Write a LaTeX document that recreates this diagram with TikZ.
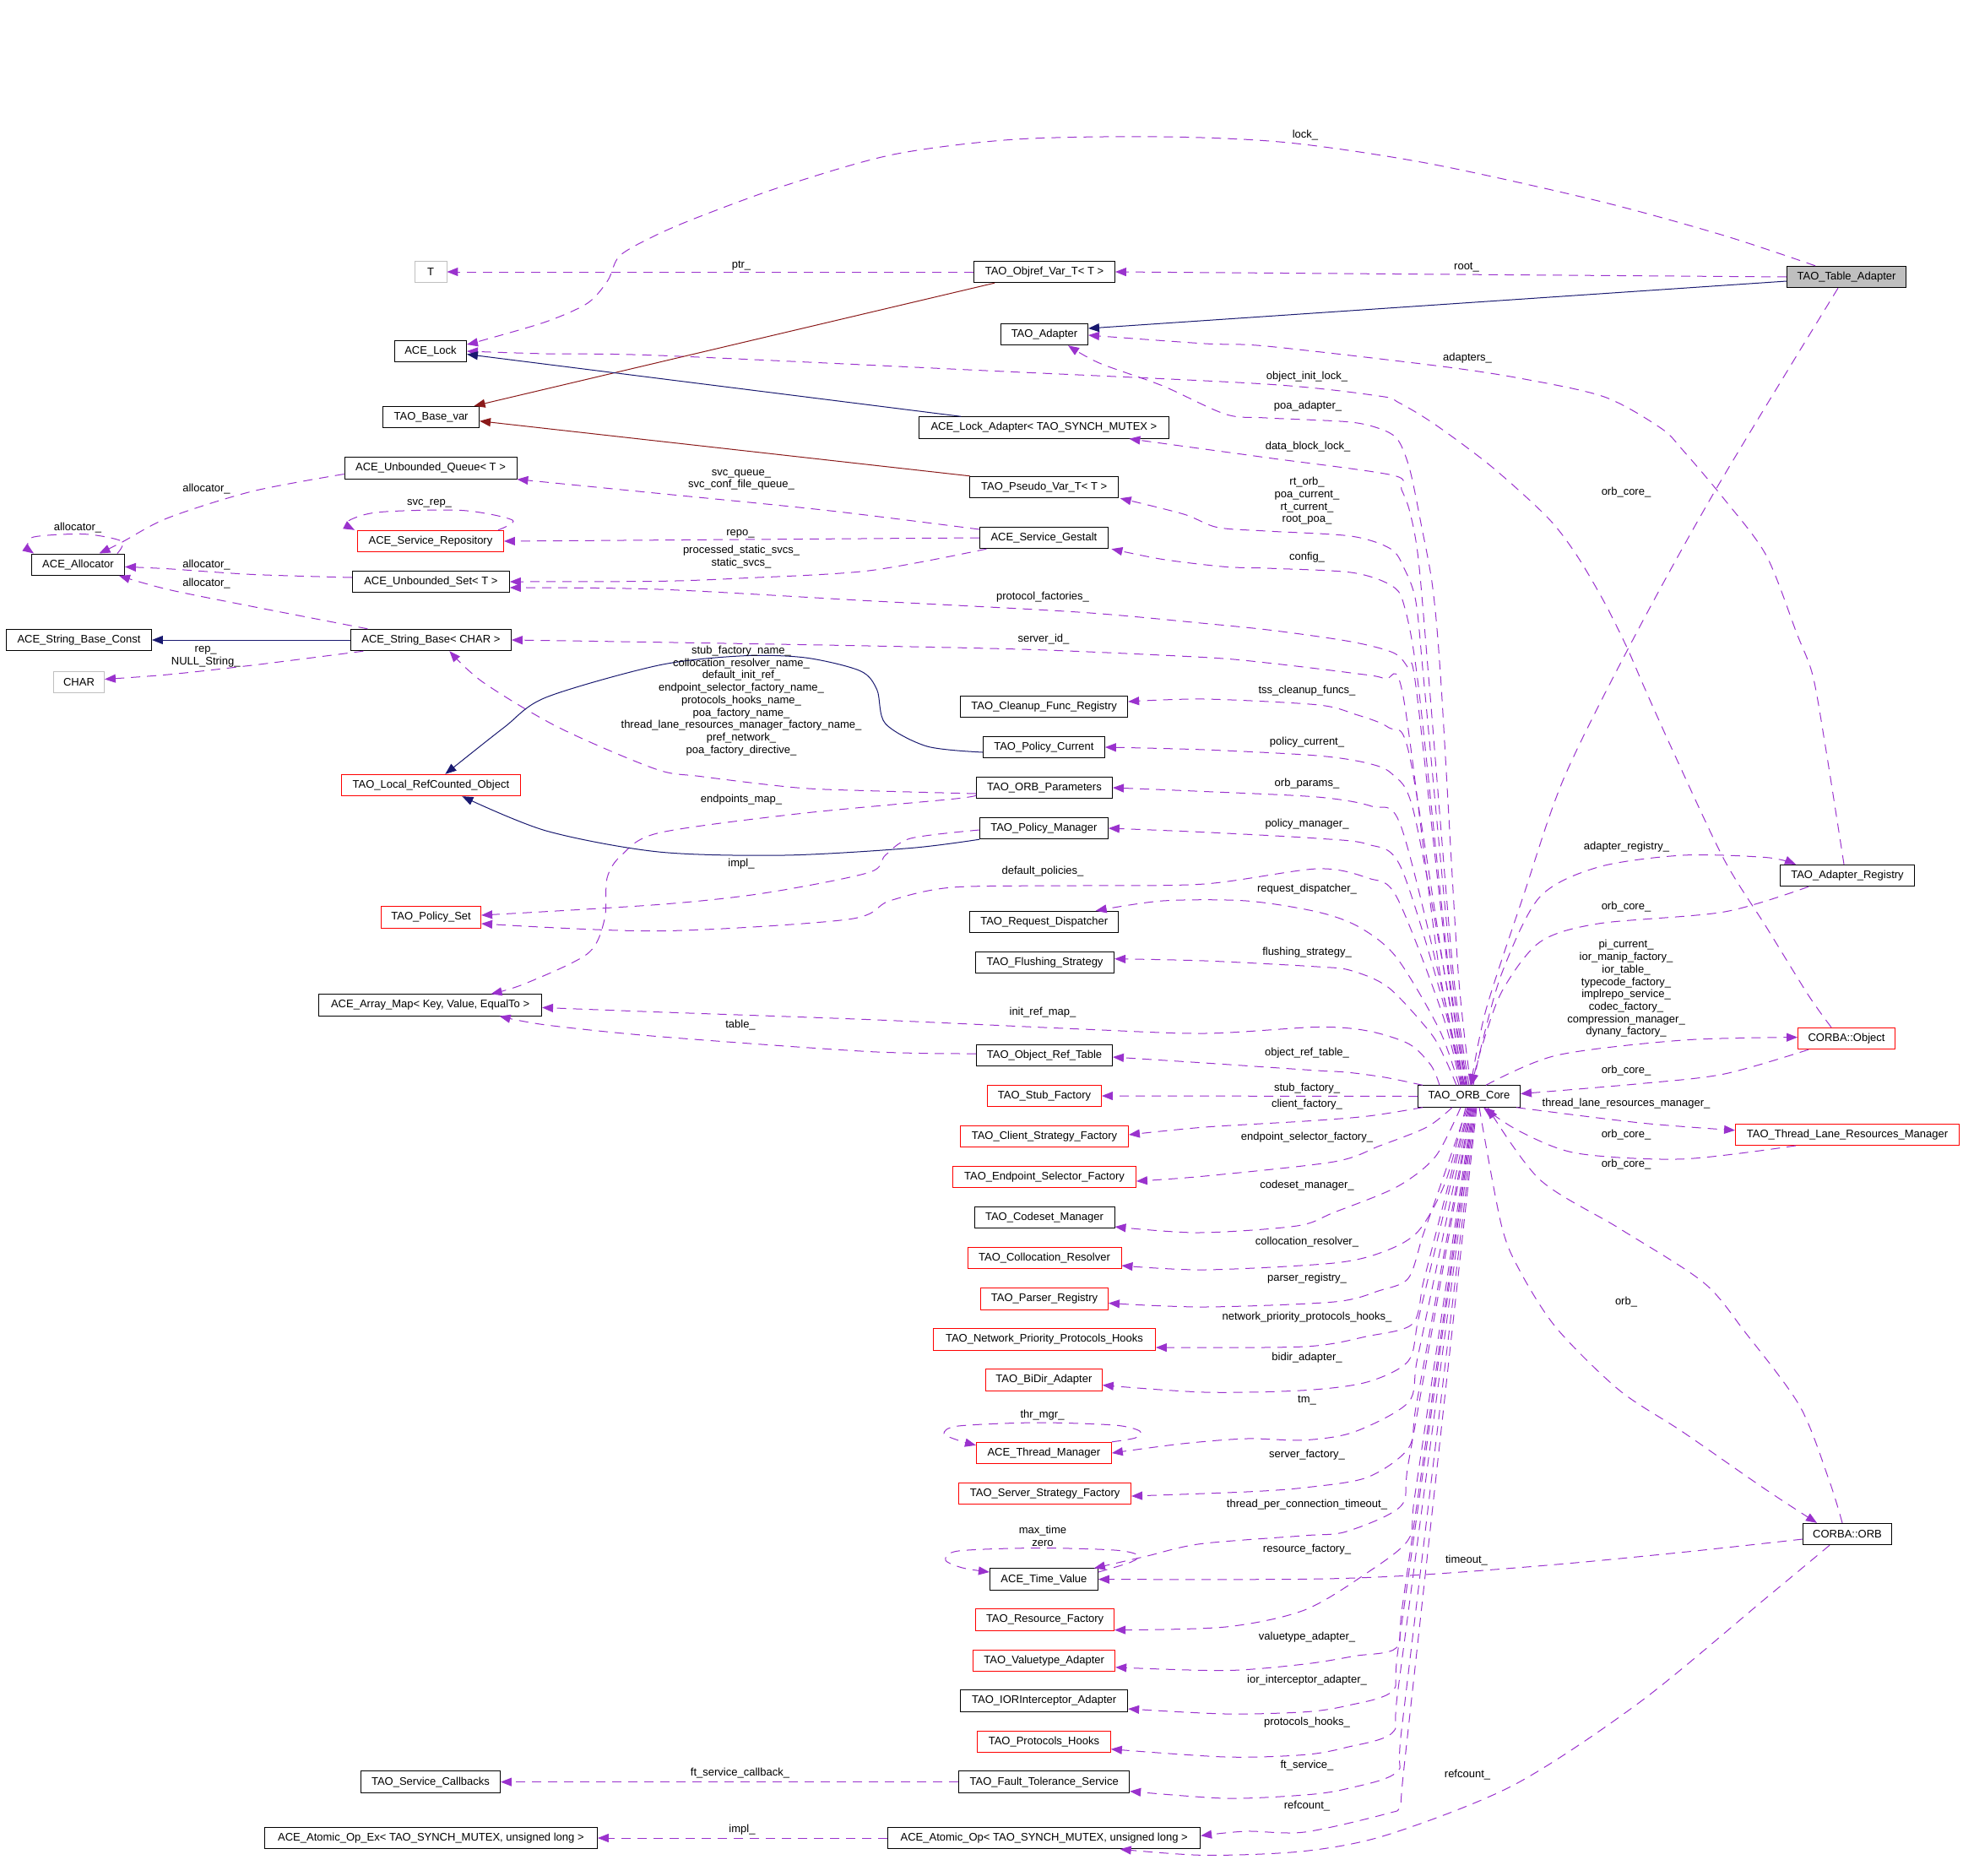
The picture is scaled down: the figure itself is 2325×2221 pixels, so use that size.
\documentclass[tikz,border=0pt]{standalone}
\usepackage{fontspec}
\setmainfont{Liberation Sans}
\usetikzlibrary{arrows.meta}
\definecolor{depc}{HTML}{9A32CD}
\definecolor{inhc}{HTML}{191970}
\definecolor{tplc}{HTML}{8B1A1A}
\definecolor{boxgray}{HTML}{BFBFBF}
\newcommand\dfont{\fontsize{13}{14.7}\selectfont}
\tikzset{
  box/.style={draw=black, line width=0.9pt, minimum height=25.5pt, inner sep=0pt, font=\dfont, fill=white},
  rbox/.style={box, draw=red},
  gbox/.style={box, draw=boxgray},
  dep/.style={draw=depc, line width=1pt, dash pattern=on 11pt off 8pt, -{Triangle[length=13pt,width=10pt]}},
  inh/.style={draw=inhc, line width=1pt, -{Triangle[length=13pt,width=10pt]}},
  tpl/.style={draw=tplc, line width=1pt, -{Triangle[length=13pt,width=10pt]}},
  lab/.style={font=\dfont, inner sep=0pt, align=center}
}
\begin{document}
\begin{tikzpicture}[x=1pt,y=-1pt]
\useasboundingbox (0,0) rectangle (2325,2221);
% ---------------- nodes ----------------
\node[gbox, minimum width=38pt] (t) at (510,322) {T};
\node[box, minimum width=85pt] (lock) at (510,416) {ACE\_Lock};
\node[box, minimum width=114pt] (basevar) at (510.6,494) {TAO\_Base\_var};
\node[box, minimum width=204pt] (uqueue) at (510,554.5) {ACE\_Unbounded\_Queue< T >};
\node[rbox, minimum width=173pt] (srep) at (510,641) {ACE\_Service\_Repository};
\node[box, minimum width=110pt] (alloc) at (92.5,668.7) {ACE\_Allocator};
\node[box, minimum width=186pt] (uset) at (510.4,689) {ACE\_Unbounded\_Set< T >};
\node[box, minimum width=172pt] (sbconst) at (93.5,758) {ACE\_String\_Base\_Const};
\node[box, minimum width=190pt] (sbase) at (510.4,758) {ACE\_String\_Base< CHAR >};
\node[gbox, minimum width=60pt] (char) at (93.5,808) {CHAR};
\node[rbox, minimum width=212pt] (lrco) at (510.4,930) {TAO\_Local\_RefCounted\_Object};
\node[rbox, minimum width=118pt] (pset) at (510.6,1086.4) {TAO\_Policy\_Set};
\node[box, minimum width=264pt] (amap) at (509.6,1190.4) {ACE\_Array\_Map< Key, Value, EqualTo >};
\node[box, minimum width=167pt] (objref) at (1237,322) {TAO\_Objref\_Var\_T< T >};
\node[box, minimum width=103pt] (adapter) at (1237,396) {TAO\_Adapter};
\node[box, minimum width=296pt] (lockad) at (1236.4,506.5) {ACE\_Lock\_Adapter< TAO\_SYNCH\_MUTEX >};
\node[box, minimum width=176pt] (pseudo) at (1236.7,577) {TAO\_Pseudo\_Var\_T< T >};
\node[box, minimum width=152pt] (gestalt) at (1236.4,637) {ACE\_Service\_Gestalt};
\node[box, fill=boxgray, minimum width=141pt] (ta) at (2187,328) {TAO\_Table\_Adapter};
\node[box, minimum width=198pt] (cleanup) at (1236.7,837) {TAO\_Cleanup\_Func\_Registry};
\node[box, minimum width=144pt] (pcur) at (1236.4,885) {TAO\_Policy\_Current};
\node[box, minimum width=161pt] (orbparams) at (1237,933) {TAO\_ORB\_Parameters};
\node[box, minimum width=152pt] (pmgr) at (1236.4,981) {TAO\_Policy\_Manager};
\node[box, minimum width=176pt] (rdisp) at (1236.7,1092) {TAO\_Request\_Dispatcher};
\node[box, minimum width=164pt] (flush) at (1237.6,1139.7) {TAO\_Flushing\_Strategy};
\node[box, minimum width=161pt] (oreft) at (1237,1250) {TAO\_Object\_Ref\_Table};
\node[rbox, minimum width=135pt] (stub) at (1237,1298) {TAO\_Stub\_Factory};
\node[rbox, minimum width=199pt] (client) at (1237,1346) {TAO\_Client\_Strategy\_Factory};
\node[rbox, minimum width=217pt] (eps) at (1237,1394) {TAO\_Endpoint\_Selector\_Factory};
\node[box, minimum width=166pt] (codeset) at (1237,1442) {TAO\_Codeset\_Manager};
\node[rbox, minimum width=182pt] (coll) at (1237,1490) {TAO\_Collocation\_Resolver};
\node[rbox, minimum width=151pt] (parser) at (1237,1538.5) {TAO\_Parser\_Registry};
\node[rbox, minimum width=263pt] (npph) at (1237,1586.5) {TAO\_Network\_Priority\_Protocols\_Hooks};
\node[rbox, minimum width=138pt] (bidir) at (1236.4,1634.6) {TAO\_BiDir\_Adapter};
\node[rbox, minimum width=160pt] (tmgr) at (1236.4,1721) {ACE\_Thread\_Manager};
\node[rbox, minimum width=204pt] (ssf) at (1237.6,1769) {TAO\_Server\_Strategy\_Factory};
\node[box, minimum width=128pt] (tv) at (1236.4,1870.6) {ACE\_Time\_Value};
\node[rbox, minimum width=164pt] (rf) at (1237.6,1918.6) {TAO\_Resource\_Factory};
\node[rbox, minimum width=168pt] (vta) at (1236.7,1966.8) {TAO\_Valuetype\_Adapter};
\node[box, minimum width=198pt] (iora) at (1236.7,2014.5) {TAO\_IORInterceptor\_Adapter};
\node[rbox, minimum width=158pt] (phooks) at (1236.4,2062.7) {TAO\_Protocols\_Hooks};
\node[box, minimum width=202pt] (fts) at (1236.7,2110.6) {TAO\_Fault\_Tolerance\_Service};
\node[box, minimum width=370pt] (atomic) at (1236.7,2177) {ACE\_Atomic\_Op< TAO\_SYNCH\_MUTEX, unsigned long >};
\node[box, minimum width=165pt] (scb) at (510,2110.6) {TAO\_Service\_Callbacks};
\node[box, minimum width=394pt] (atomicex) at (510.4,2177) {ACE\_Atomic\_Op\_Ex< TAO\_SYNCH\_MUTEX, unsigned long >};
\node[box, minimum width=159pt] (areg) at (2188,1037) {TAO\_Adapter\_Registry};
\node[rbox, minimum width=115pt] (cobj) at (2187,1230) {CORBA::Object};
\node[box, minimum width=121pt] (core) at (1740,1298.5) {TAO\_ORB\_Core};
\node[rbox, minimum width=265pt] (tlrm) at (2188,1343.75) {TAO\_Thread\_Lane\_Resources\_Manager};
\node[box, minimum width=105pt] (corb) at (2188,1817) {CORBA::ORB};
% ---------------- TAO_Table_Adapter ----------------
\draw[dep] plot[smooth] coordinates {([xshift=-37pt]ta.north) (2042,279) (1893,238) (1694,194) (1526,169) (1377,162) (1203,165) (1058,183) (929,220) (830,256) (776,279) (734,303) (720,332) (696,359) (647,381) (572,403) ([yshift=8pt]lock.east)};
\draw[dep] (ta.west) -- (objref.east);
\draw[inh] ([yshift=-5pt]ta.west) -- ([yshift=7pt]adapter.east);
\draw[dep] plot[smooth] coordinates {([xshift=-10pt]ta.south) (2035,575) (1938,750) (1853,920) (1804,1062) (1760,1196) ([xshift=2pt]core.north)};
% ---------------- CORBA::Object, Adapter registry ----------------
\draw[dep] plot[smooth] coordinates {([xshift=-18pt]cobj.north) (2142,1179) (2092,1098) (2042,1018) (1983,893) (1947,813) (1927,767) (1900,713) (1867,657) (1833,613) (1767,553) (1700,503) (1657,477) (1633,469) (1500,455) (1168,439) (780,421) (647,419) (lock.east)};
\draw[dep] plot[smooth] coordinates {([xshift=-4pt]areg.north) (2162,884) (2147,800) (2128,750) (2092,658) (2042,591) (1993,533) (1967,507) (1900,470) (1800,448) (1700,433) (1500,410) (1427,407) ([yshift=-1pt]adapter.east)};
% ---------------- left part ----------------
\draw[dep] (objref.west) -- (t.east);
\draw[tpl] ([xshift=-59pt]objref.south) -- ([xshift=51pt]basevar.north);
\draw[inh] ([xshift=-98pt]lockad.north) -- ([yshift=-3.6pt]lock.east);
\draw[tpl] ([xshift=-88pt]pseudo.north) -- ([yshift=-4.7pt]basevar.east);
\draw[dep] plot[smooth] coordinates {([yshift=10pt]gestalt.west) (979,604.5) (780,584.4) (uqueue.south east)};
\draw[dep] (gestalt.west) -- (srep.east);
\draw[dep] plot[smooth] coordinates {([xshift=-68pt]gestalt.south) (1028.7,676) (879.5,684.8) (780,688.4) (uset.east)};
\draw[dep] plot[smooth] coordinates {([yshift=-7pt]uqueue.west) (298.5,582) (199,613.4) (144,642.4) ([xshift=25pt]alloc.north)};
\draw[dep] plot[smooth] coordinates {([yshift=5pt]uset.west) (298.5,680.4) (199,673.7) ([yshift=-2.7pt]alloc.east)};
\draw[dep] plot[smooth] coordinates {([xshift=-75pt]sbase.north) (298.5,718.3) (199,698.2) ([xshift=-7pt]alloc.south east)};
\draw[dep] plot[smooth] coordinates {([xshift=-9pt]alloc.north east) (144,641) (99.5,632.6) (40,636) (33,648) ([xshift=3pt]alloc.north west)};
\draw[dep] plot[smooth] coordinates {([xshift=-7pt]srep.north east) (607,616) (547,604.5) (448,606.7) (411,618) ([xshift=-3pt]srep.north west)};
\draw[inh] (sbase.west) -- (sbconst.east);
\draw[dep] plot[smooth] coordinates {([xshift=-80pt]sbase.south) (298.5,788) (199,799) ([yshift=3.5pt]char.east)};
\draw[dep] plot[smooth] coordinates {([yshift=-7pt]orbparams.west) (1028.7,936.6) (944,933) (829.7,919.6) (776,910.7) (661.6,861.6) (572,808) ([xshift=22pt]sbase.south)};
\draw[dep] plot[smooth] coordinates {([yshift=-9pt]orbparams.west) (1128,946.4) (944,964) (780,986.6) (736,1013) (719,1040) (716,1089) (696,1129.5) (622,1165) ([xshift=72pt]amap.north)};
\draw[dep] plot[smooth] coordinates {([yshift=-2pt]pmgr.west) (1078.5,993) (1048.6,1013) (1028.7,1033.5) (904,1058) (780,1071.4) ([yshift=2.4pt]pset.east)};
\draw[inh] plot[smooth] coordinates {([yshift=-6pt]pcur.west) (1098,884) (1048.6,857) (1038.7,817) (1018.8,794.6) (954,779) (879.5,776.8) (780,788) (646.7,826) (597,861.6) ([xshift=17pt]lrco.north)};
\draw[inh] plot[smooth] coordinates {(pmgr.south west) (1078.5,1004.5) (929,1013) (780,1009) (646.7,984) ([xshift=37pt]lrco.south)};
\draw[dep] plot[smooth] coordinates {([yshift=2pt]oreft.west) (1028.7,1245.5) (780,1227.7) (646.7,1214) ([xshift=82pt]amap.south)};
\draw[dep] (fts.west) -- (scb.east);
\draw[dep] (atomic.west) -- (atomicex.east);
% ---------------- ORB core: upper fan ----------------
\draw[dep] plot[smooth] coordinates {([xshift=2pt]core.north) (1727,1150) (1707,813) (1697,697) (1683,620) (1670,557) (1657,523) (1640,510) (1600,500) (1500,495) (1451.5,490.6) (1377,457) (1302,430) ([xshift=28pt]adapter.south)};
\draw[dep] plot[smooth] coordinates {([xshift=0pt]core.north) (1721,1150) (1693,813) (1680,663) (1670,607) (1660,580) (1650,563) (1500,542) (1402,528.6) ([xshift=101pt]lockad.south)};
\draw[dep] plot[smooth] coordinates {([xshift=-2pt]core.north) (1719,1150) (1687,813) (1677,713) (1663,673) (1647,650) (1600,635) (1500,629) (1441.6,624.6) (1402,609) ([xshift=90pt]pseudo.south)};
\draw[dep] plot[smooth] coordinates {([xshift=-3pt]core.north) (1716,1150) (1680,813) (1663,717) (1647,693) (1600,678) (1500,673) (1451.5,671.4) (1377,662.5) ([xshift=80pt]gestalt.south)};
\draw[dep] plot[smooth] coordinates {([xshift=-4pt]core.north) (1715,1150) (1677,813) (1667,790) (1650,773) (1600,760) (1510,747) (1426.7,738.4) (1277,725) (1028.7,711.6) (780,698) ([yshift=-7pt]uset.east)};
\draw[dep] plot[smooth] coordinates {([xshift=-5pt]core.north) (1705,1150) (1662,825) (1640,804) (1600,797) (1500,785) (1426.7,778.6) (1227.7,769.6) (1028.7,765) (780,760.7) (sbase.east)};
\draw[dep] plot[smooth] coordinates {([xshift=-6pt]core.north) (1712,1160) (1669,893) (1644.5,861.6) (1605,846) (1560,834.8) (1426.7,828) ([yshift=6pt]cleanup.east)};
\draw[dep] plot[smooth] coordinates {([xshift=-7pt]core.north) (1714,1170) (1674,960) (1649.5,917.4) (1620,904) (1560,895) (1426.7,888) (pcur.east)};
\draw[dep] plot[smooth] coordinates {([xshift=-8pt]core.north) (1710,1180) (1659,977.7) (1624.6,955) (1560,944) (1426.7,937.5) (orbparams.east)};
\draw[dep] plot[smooth] coordinates {([xshift=-9pt]core.north) (1710,1190) (1659,1026.8) (1620,1000) (1560,993) (1426.7,985.7) (pmgr.east)};
\draw[dep] plot[smooth] coordinates {([xshift=-10pt]core.north) (1708,1200) (1654,1062) (1620,1040) (1560,1029) (1426.7,1047) (1277,1049) (1128,1051) (1053.6,1067) (1004,1089) (780,1102.7) ([yshift=-7.6pt]pset.east)};
\draw[dep] plot[smooth] coordinates {([xshift=-12pt]core.north) (1705,1220) (1654,1134) (1609.7,1098) (1560,1080) (1476,1067) (1377,1067) ([xshift=61pt]rdisp.north)};
\draw[dep] plot[smooth] coordinates {([xshift=-15pt]core.north) (1712,1255) (1694,1223) (1644.5,1169.6) (1600,1149.5) (1560,1145) (1426.7,1138) ([yshift=4pt]flush.east)};
\draw[dep] plot[smooth] coordinates {([xshift=-35pt]core.north) (1695,1262) (1669,1236.6) (1620,1221) (1560,1216.5) (1426.7,1224) (1277,1218.75) (1028.7,1207.6) (780,1198.7) ([yshift=-3pt]amap.east)};
\draw[dep] plot[smooth] coordinates {([xshift=-55pt]core.north) (1640,1276) (1595,1270) (1560,1268) (1426.7,1259) ([yshift=-2pt]oreft.east)};
\draw[dep] (core.west) -- (stub.east);
% ---------------- ORB core: lower fan ----------------
\draw[dep] plot[smooth] coordinates {([xshift=-55pt]core.south) (1620,1322) (1545,1328) (1427,1335) ([yshift=2pt]client.east)};
\draw[dep] plot[smooth] coordinates {([xshift=-20pt]core.south) (1690,1335) (1634.5,1357) (1580,1376) (1427,1393) ([yshift=-5pt]eps.east)};
\draw[dep] plot[smooth] coordinates {([xshift=-10pt]core.south) (1700,1370) (1654,1406) (1580,1436) (1536,1452) (1419,1460) ([yshift=-11pt]codeset.east)};
\draw[dep] plot[smooth] coordinates {([xshift=-4pt]core.south) (1712,1400) (1680,1458) (1640,1482) (1580,1496) (1427,1504) ([yshift=-9pt]coll.east)};
\draw[dep] plot[smooth] coordinates {([xshift=-2pt]core.south) (1703,1413) (1685,1464) (1668,1514) (1633.5,1528.7) (1580,1542) (1426.7,1548) ([yshift=-5pt]parser.east)};
\draw[dep] plot[smooth] coordinates {([xshift=-1pt]core.south) (1706,1440) (1686,1518) (1673,1568) (1619,1582.8) (1545,1595) ([yshift=-9.5pt]npph.east)};
\draw[dep] plot[smooth] coordinates {(core.south) (1704,1462) (1680,1562) (1668,1612) (1619,1637) (1545,1646.7) (1426.7,1649) ([yshift=-6pt]bidir.east)};
\draw[dep] plot[smooth] coordinates {([xshift=1pt]core.south) (1704.5,1486.5) (1678.4,1611) (1668,1661) (1604,1696) (1545,1705.7) (1476,1704) (1400,1710) (tmgr.east)};
\draw[dep] plot[smooth] coordinates {([xshift=2pt]core.south) (1705,1514) (1677.2,1665.5) (1668,1715.5) (1619,1750) (1545,1762) (1476,1767) ([yshift=-3pt]ssf.east)};
\draw[dep] plot[smooth] coordinates {([xshift=3pt]core.south) (1701,1548) (1667.9,1734) (1659,1784) (1594.7,1814) (1545,1818.8) (1421.7,1828.6) (1357,1843.4) ([xshift=-5pt]tv.north east)};
\draw[dep] plot[smooth] coordinates {([xshift=4pt]core.south) (1706,1568) (1675.4,1773.7) (1668,1823.7) (1619,1863) (1545,1907) (1451.5,1927) ([yshift=-12pt]rf.east)};
\draw[dep] plot[smooth] coordinates {([xshift=5pt]core.south) (1699.5,1632) (1661.1,1901.5) (1654,1951.5) (1604.7,1961.4) (1545,1971) (1451.5,1978.6) ([yshift=-8pt]vta.east)};
\draw[dep] plot[smooth] coordinates {([xshift=6pt]core.south) (1697.5,1657.5) (1656,1953) (1649,2003) (1594.7,2020.4) (1545,2027.7) (1451.5,2030) ([yshift=-9.5pt]iora.east)};
\draw[dep] plot[smooth] coordinates {([xshift=7pt]core.south) (1698,1682) (1655.7,2002.3) (1649,2052.3) (1594.7,2069.6) (1545,2078.4) (1451.5,2081) ([yshift=-9pt]phooks.east)};
\draw[dep] plot[smooth] coordinates {([xshift=8pt]core.south) (1701,1705.5) (1660,2049) (1654,2099) (1594.7,2118.7) (1545,2126) (1451.5,2130) ([yshift=-11pt]fts.east)};
\draw[dep] plot[smooth] coordinates {([xshift=9pt]core.south) (1703.5,1725) (1663.5,2088.4) (1658,2138.4) (1643,2148) (1545,2170) (1476,2169) ([yshift=2.7pt]atomic.east)};
% ---------------- self loops ----------------
\draw[dep] plot[smooth] coordinates {(tmgr.north east) (1345,1703) (1350,1695) (1320,1688) (1228,1685) (1135,1689) (1118,1698) (1135,1706) ([yshift=-4pt]tmgr.north west)};
\draw[dep] plot[smooth] coordinates {([yshift=-4.6pt]tv.north east) (1340,1850) (1348,1842) (1320,1836) (1228,1833.5) (1135,1837) (1120,1848) (1140,1857) ([yshift=-4.6pt]tv.north west)};
% ---------------- right part ----------------
\draw[dep] plot[smooth] coordinates {([xshift=5pt]core.north) (1754,1241) (1779,1152) (1823.6,1062.5) (1893,1027) (1993,1013) (2092,1015.6) ([xshift=-61pt]areg.north)};
\draw[dep] plot[smooth] coordinates {([xshift=-46pt]areg.south) (2042.4,1080) (1893,1094) (1823.6,1116) (1779,1174) (1755,1240) ([xshift=3pt]core.north)};
\draw[dep] plot[smooth] coordinates {([xshift=20pt]core.north) (1843.5,1250) (1993,1232) ([yshift=1.4pt]cobj.west)};
\draw[dep] plot[smooth] coordinates {([xshift=-45pt]cobj.south) (2042.4,1272) (1943,1283.5) ([yshift=3pt]core.east)};
\draw[dep] plot[smooth] coordinates {([xshift=-5pt]core.south east) (1943,1330) ([yshift=5pt]tlrm.west)};
\draw[dep] plot[smooth] coordinates {([xshift=-61pt]tlrm.south) (1993,1372.8) (1868,1366) (1800,1340) ([xshift=17pt]core.south)};
\draw[dep] plot[smooth] coordinates {([xshift=12pt]core.south) (1778,1450) (1800,1505) (1843.5,1573) (1918,1646.7) (1993,1696) (2092,1764.7) ([xshift=-36pt]corb.north)};
\draw[dep] plot[smooth] coordinates {([xshift=-6pt]corb.north) (2167,1755) (2132,1666) (2067,1578) (2017.6,1519) (1918,1455) (1823.6,1397) ([xshift=22pt]core.south)};
\draw[dep] plot[smooth] coordinates {([yshift=-6pt]corb.west) (1993,1838.5) (1843.5,1853) (1679,1865.5) (1545,1870.4) (tv.east)};
\draw[dep] plot[smooth] coordinates {([xshift=-21pt]corb.south) (2092,1892.5) (1943,2015.5) (1793.7,2113.8) (1644.5,2172.8) (1545,2192.5) (1426.7,2197.4) ([xshift=90pt]atomic.south)};
% ---------------- labels ----------------
\node[lab] (l01) at (1546,160) {lock\_};
\node[lab] (l02) at (878,314.7) {ptr\_};
\node[lab] (l03) at (1737,317) {root\_};
\node[lab] (l04) at (1738,424.5) {adapters\_};
\node[lab] (l05) at (1548,446.5) {object\_init\_lock\_};
\node[lab] (l06) at (1549,481) {poa\_adapter\_};
\node[lab] (l07) at (1549,528.6) {data\_block\_lock\_};
\node[lab] (l08) at (1548,593.5) {rt\_orb\_\\poa\_current\_\\rt\_current\_\\root\_poa\_};
\node[lab] (l09) at (1548,660) {config\_};
\node[lab] (l10) at (1926,583) {orb\_core\_};
\node[lab] (l11) at (878,568.3) {svc\_queue\_\\svc\_conf\_file\_queue\_};
\node[lab] (l12) at (877,632) {repo\_};
\node[lab] (l13) at (878,659.4) {processed\_static\_svcs\_\\static\_svcs\_};
\node[lab] (l14) at (508.6,596) {svc\_rep\_};
\node[lab] (l15) at (244.5,578.6) {allocator\_};
\node[lab] (l16) at (92,624.6) {allocator\_};
\node[lab] (l17) at (244.5,668.75) {allocator\_};
\node[lab] (l18) at (244.5,691.5) {allocator\_};
\node[lab] (l19) at (243.7,777.5) {rep\_\\NULL\_String\_};
\node[lab] (l20) at (1235,707.6) {protocol\_factories\_};
\node[lab] (l21) at (1236,757) {server\_id\_};
\node[lab] (l22) at (878,830) {stub\_factory\_name\_\\collocation\_resolver\_name\_\\default\_init\_ref\_\\endpoint\_selector\_factory\_name\_\\protocols\_hooks\_name\_\\poa\_factory\_name\_\\thread\_lane\_resources\_manager\_factory\_name\_\\pref\_network\_\\poa\_factory\_directive\_};
\node[lab] (l23) at (1548,818) {tss\_cleanup\_funcs\_};
\node[lab] (l24) at (1548,879.5) {policy\_current\_};
\node[lab] (l25) at (1548,927.7) {orb\_params\_};
\node[lab] (l26) at (878,947) {endpoints\_map\_};
\node[lab] (l27) at (1548,976) {policy\_manager\_};
\node[lab] (l28) at (1926.5,1002.7) {adapter\_registry\_};
\node[lab] (l29) at (878,1023) {impl\_};
\node[lab] (l30) at (1235,1032) {default\_policies\_};
\node[lab] (l31) at (1548,1052.7) {request\_dispatcher\_};
\node[lab] (l32) at (1926,1074.5) {orb\_core\_};
\node[lab] (l33) at (1926,1171) {pi\_current\_\\ior\_manip\_factory\_\\ior\_table\_\\typecode\_factory\_\\implrepo\_service\_\\codec\_factory\_\\compression\_manager\_\\dynany\_factory\_};
\node[lab] (l34) at (1548,1127.7) {flushing\_strategy\_};
\node[lab] (l35) at (1235,1199.6) {init\_ref\_map\_};
\node[lab] (l36) at (877,1214) {table\_};
\node[lab] (l37) at (1548,1247.3) {object\_ref\_table\_};
\node[lab] (l38) at (1926,1268) {orb\_core\_};
\node[lab] (l39) at (1548,1288.8) {stub\_factory\_};
\node[lab] (l40) at (1926,1306.7) {thread\_lane\_resources\_manager\_};
\node[lab] (l41) at (1548,1308.5) {client\_factory\_};
\node[lab] (l42) at (1926,1343.75) {orb\_core\_};
\node[lab] (l43) at (1548,1347.3) {endpoint\_selector\_factory\_};
\node[lab] (l44) at (1926,1379.5) {orb\_core\_};
\node[lab] (l45) at (1548,1404) {codeset\_manager\_};
\node[lab] (l46) at (1548,1470.7) {collocation\_resolver\_};
\node[lab] (l47) at (1548,1514.4) {parser\_registry\_};
\node[lab] (l48) at (1926,1542) {orb\_};
\node[lab] (l49) at (1548,1560.6) {network\_priority\_protocols\_hooks\_};
\node[lab] (l50) at (1548,1608) {bidir\_adapter\_};
\node[lab] (l51) at (1548,1658.5) {tm\_};
\node[lab] (l52) at (1234.5,1675.7) {thr\_mgr\_};
\node[lab] (l53) at (1548,1723) {server\_factory\_};
\node[lab] (l54) at (1548,1782.4) {thread\_per\_connection\_timeout\_};
\node[lab] (l55) at (1235,1819) {max\_time\\zero};
\node[lab] (l56) at (1548,1835.5) {resource\_factory\_};
\node[lab] (l57) at (1737,1848) {timeout\_};
\node[lab] (l58) at (1548,1938.8) {valuetype\_adapter\_};
\node[lab] (l59) at (1548,1990.4) {ior\_interceptor\_adapter\_};
\node[lab] (l60) at (1548,2040.5) {protocols\_hooks\_};
\node[lab] (l61) at (1548,2090.7) {ft\_service\_};
\node[lab] (l62) at (876.5,2100.5) {ft\_service\_callback\_};
\node[lab] (l63) at (1738,2102.5) {refcount\_};
\node[lab] (l64) at (1548,2139.4) {refcount\_};
\node[lab] (l65) at (879,2167.4) {impl\_};
\end{tikzpicture}
\end{document}
